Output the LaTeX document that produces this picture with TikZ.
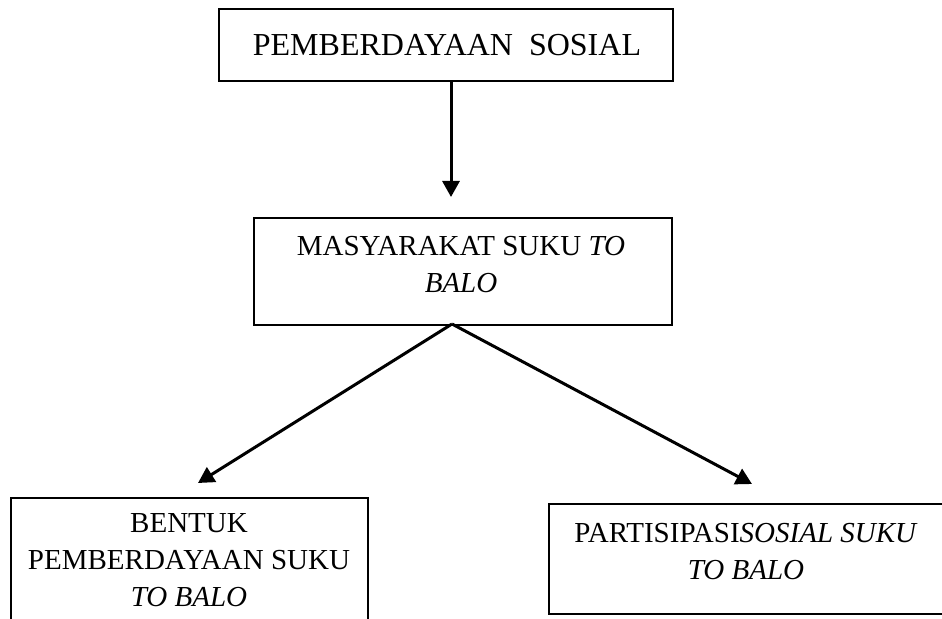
\documentclass[tikz,border=0pt]{standalone}
\usepackage{fontspec}
\setmainfont{Liberation Serif}
\usetikzlibrary{arrows.meta}
\begin{document}
\begin{tikzpicture}[x=0.5pt,y=-0.5pt,
  box/.style={draw,line width=1pt,inner sep=0pt,anchor=north west},
  lbl/.style={inner sep=0pt,anchor=north,align=center,font=\fontsize{14.5}{18.5}\selectfont},
  toplbl/.style={inner sep=0pt,anchor=north,align=center,font=\fontsize{16}{18.5}\selectfont},
  arr/.style={line width=1.5pt,-{Triangle[length=8pt,width=8.5pt]}}]
\useasboundingbox (0,0) rectangle (942,619);
\clip (0,0) rectangle (942,619);
% boxes
\node[box,minimum width=227pt,minimum height=36pt] (top) at (218,8) {};
\node[box,minimum width=209pt,minimum height=53.5pt] (mid) at (253,217) {};
\node[box,minimum width=178.5pt,minimum height=90pt] (left) at (10,497) {};
\node[box,minimum width=260pt,minimum height=55pt] (right) at (548,503) {};
% texts
\node[toplbl] (ttop) at (447,34) {PEMBERDAYAAN\ \ SOSIAL};
\node[lbl] (tmid) at (461,236) {MASYARAKAT SUKU \textit{TO}\\\textit{BALO}};
\node[lbl] (tleft) at (189,513) {BENTUK\\PEMBERDAYAAN SUKU\\\textit{TO BALO}};
\node[lbl] (tright) at (746,523) {PARTISIPASI\textit{SOSIAL SUKU}\\\textit{TO BALO}};
% connectors
\coordinate (s1) at (451,82);
\coordinate (e1) at (451,197);
\coordinate (fork) at (452,324);
\coordinate (e2) at (198,483);
\coordinate (e3) at (752,484);
\draw[arr] (s1) -- (e1);
\draw[arr] (fork) -- (e2);
\draw[arr] (fork) -- (e3);
\end{tikzpicture}
\end{document}
